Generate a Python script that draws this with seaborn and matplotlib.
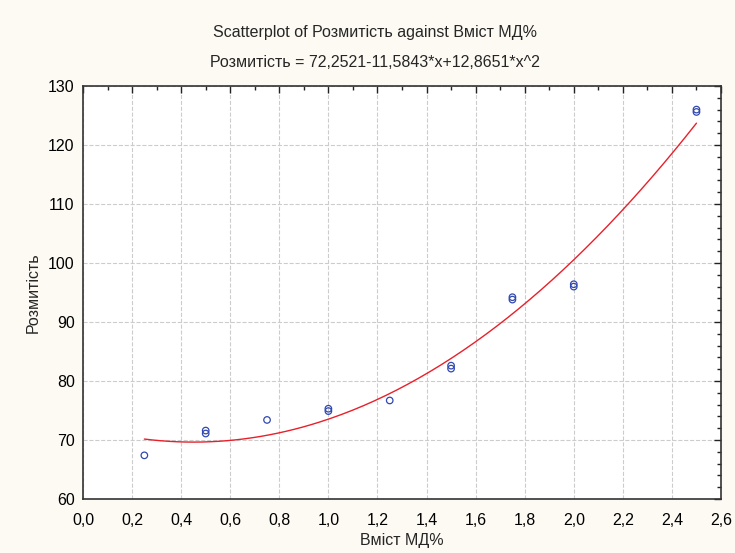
import numpy as np
import pandas as pd
import seaborn as sns
import matplotlib
matplotlib.use('Agg')
import matplotlib.pyplot as plt
from matplotlib.ticker import MultipleLocator, FuncFormatter

# дані
vmist = [0.25, 0.5, 0.5, 0.75, 1.0, 1.0, 1.25, 1.5, 1.5, 1.75, 1.75, 2.0, 2.0, 2.5, 2.5]
rozmytist = [67.4, 71.1, 71.6, 73.4, 74.9, 75.3, 76.7, 82.1, 82.6, 93.8, 94.2, 96.0, 96.4, 125.6, 126.0]

# коефіцієнти квадратичної регресії з підпису
coef = [72.2521, -11.5843, 12.8651]

x_ticks = [0.0, 0.2, 0.4, 0.6, 0.8, 1.0, 1.2, 1.4, 1.6, 1.8, 2.0, 2.2, 2.4, 2.6]
y_ticks = [60, 70, 80, 90, 100, 110, 120, 130]

title1 = "Scatterplot of Розмитість against Вміст МД%"
title2 = "Розмитість = 72,2521-11,5843*x+12,8651*x^2"

sns.set_style("white")
plt.rcParams['font.family'] = ['Liberation Sans', 'DejaVu Sans']

df = pd.DataFrame({'x': vmist, 'y': rozmytist})
xs = np.linspace(min(vmist), max(vmist), 200)
fit = pd.DataFrame({'x': xs, 'y': coef[0] + coef[1] * xs + coef[2] * xs ** 2})

fig = plt.figure(figsize=(7.35, 5.53), dpi=100, facecolor='#fdfaf3')
ax = fig.add_axes([83 / 735, 1 - 499 / 553, (721 - 83) / 735, (499 - 86) / 553])
ax.set_facecolor('white')

sns.lineplot(data=fit, x='x', y='y', ax=ax, color='#e8202a', linewidth=1.0)
sns.scatterplot(data=df, x='x', y='y', ax=ax, marker='o', s=22,
                facecolors='none', edgecolor='#3048b0', linewidth=0.9, zorder=3)

ax.set_xlim(0, 2.6)
ax.set_ylim(60, 130)
ax.set_xticks(x_ticks)
ax.set_yticks(y_ticks)
ax.xaxis.set_minor_locator(MultipleLocator(0.1))
ax.yaxis.set_minor_locator(MultipleLocator(2))
ax.xaxis.set_major_formatter(FuncFormatter(lambda v, p: f"{v:.1f}".replace('.', ',')))
ax.yaxis.set_major_formatter(FuncFormatter(lambda v, p: f"{v:.0f}"))

ax.grid(True, which='major', linestyle='--', color='#cccccc', linewidth=0.8)
ax.tick_params(which='both', direction='in', top=True, right=True, labelsize=11.5,
               colors='#222222', labelcolor='black')
ax.tick_params(axis='x', which='major', pad=10)
ax.tick_params(axis='y', which='major', pad=6)
ax.tick_params(which='major', length=5, width=1)
ax.tick_params(which='minor', length=3, width=1)
for sp in ax.spines.values():
    sp.set_color('#333333')
    sp.set_linewidth(1.2)

ax.set_xlabel("Вміст МД%", fontsize=11.5, labelpad=4)
ax.set_ylabel("Розмитість", fontsize=11.5, labelpad=5)

fig.text(375 / 735, 1 - 33 / 553, title1, ha='center', va='center', fontsize=11.5)
fig.text(375 / 735, 1 - 63 / 553, title2, ha='center', va='center', fontsize=11.5)

fig.savefig("out.png", dpi=100, facecolor=fig.get_facecolor())
